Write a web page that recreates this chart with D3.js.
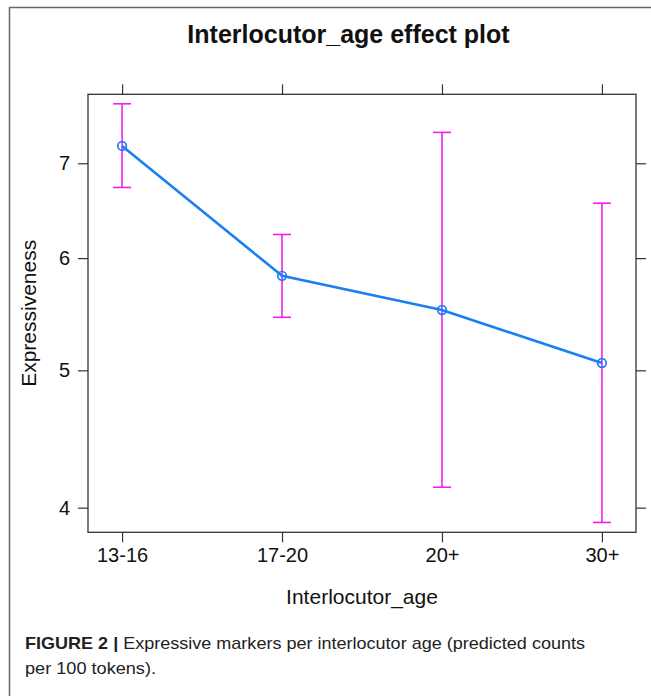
<!DOCTYPE html>
<html>
<head>
<meta charset="utf-8">
<script src="https://cdn.jsdelivr.net/npm/d3@7"></script>
<style>
  html, body { margin: 0; padding: 0; background: #fff; }
  svg { display: block; }
  text { font-family: "Liberation Sans", Arial, Helvetica, sans-serif; fill: #111; }
</style>
</head>
<body>
<svg id="chart" width="651" height="696"></svg>
<script>
// Interlocutor age effect on expressiveness (fitted values with confidence limits)
const categories = ["13-16", "17-20", "20+", "30+"];
const fitValues   = [7.20, 5.83, 5.515, 5.06];
const lowerValues = [6.73, 5.45, 4.135, 3.905];
const upperValues = [7.71, 6.235, 7.36, 6.56];
const yTickValues = [4, 5, 6, 7];

const titleText = "Interlocutor_age effect plot";
const xTitle = "Interlocutor_age";
const yTitle = "Expressiveness";
const captionBold = "FIGURE 2 |";
const captionLine1 = " Expressive markers per interlocutor age (predicted counts";
const captionLine2 = "per 100 tokens).";

const svg = d3.select("#chart");
const box = { left: 88, right: 636, top: 94.3, bottom: 532.3 };

// outer figure frame (open at right and bottom)
svg.append("path")
  .attr("d", "M9.5,696 L9.5,7.5 L651,7.5")
  .attr("fill", "none").attr("stroke", "#666").attr("stroke-width", 1.5);

const x = d3.scalePoint()
  .domain(categories)
  .range([box.left, box.right])
  .padding(0.213);

const y = d3.scaleLog()
  .domain([3.843, 7.83])
  .range([box.bottom, box.top]);

const tickLen = 10;
const axisColor = "#333";

// ticks on all four sides, labels on left and bottom
const axLeft = d3.axisLeft(y).tickValues(yTickValues).tickFormat(d3.format("d")).tickSizeOuter(0).tickSizeInner(tickLen).tickPadding(8);
const axRight = d3.axisRight(y).tickValues(yTickValues).tickFormat("").tickSizeOuter(0).tickSizeInner(tickLen);
const axBottom = d3.axisBottom(x).tickSizeOuter(0).tickSizeInner(tickLen).tickPadding(6);
const axTop = d3.axisTop(x).tickFormat("").tickSizeOuter(0).tickSizeInner(tickLen);

function styleAxis(g) {
  g.select(".domain").remove();
  g.selectAll(".tick line").attr("stroke", axisColor).attr("stroke-width", 1.2);
  g.selectAll(".tick text")
    .attr("fill", "#111")
    .style("font-family", "'Liberation Sans', Arial, Helvetica, sans-serif")
    .style("font-size", "20px");
}

svg.append("g").attr("transform", `translate(${box.left},0)`).call(axLeft).call(styleAxis);
svg.append("g").attr("transform", `translate(${box.right},0)`).call(axRight).call(styleAxis);
svg.append("g").attr("transform", `translate(0,${box.bottom})`).call(axBottom).call(styleAxis);
svg.append("g").attr("transform", `translate(0,${box.top})`).call(axTop).call(styleAxis);

// panel box
svg.append("rect")
  .attr("x", box.left).attr("y", box.top)
  .attr("width", box.right - box.left).attr("height", box.bottom - box.top)
  .attr("fill", "none").attr("stroke", axisColor).attr("stroke-width", 1.3);

const rows = categories.map((c, i) => ({ cat: c, fit: fitValues[i], lo: lowerValues[i], hi: upperValues[i] }));

// confidence interval bars
const barColor = "#f020f0";
const capHalf = 9;
const bars = svg.append("g");
bars.selectAll("line.stem").data(rows).join("line")
  .attr("class", "stem")
  .attr("x1", d => x(d.cat)).attr("x2", d => x(d.cat))
  .attr("y1", d => y(d.lo)).attr("y2", d => y(d.hi))
  .attr("stroke", barColor).attr("stroke-width", 1.6);
bars.selectAll("line.capHi").data(rows).join("line")
  .attr("class", "capHi")
  .attr("x1", d => x(d.cat) - capHalf).attr("x2", d => x(d.cat) + capHalf)
  .attr("y1", d => y(d.hi)).attr("y2", d => y(d.hi))
  .attr("stroke", barColor).attr("stroke-width", 1.6);
bars.selectAll("line.capLo").data(rows).join("line")
  .attr("class", "capLo")
  .attr("x1", d => x(d.cat) - capHalf).attr("x2", d => x(d.cat) + capHalf)
  .attr("y1", d => y(d.lo)).attr("y2", d => y(d.lo))
  .attr("stroke", barColor).attr("stroke-width", 1.6);

// fitted line and points
const lineColor = "#1a7ff0";
svg.append("path")
  .datum(rows)
  .attr("d", d3.line().x(d => x(d.cat)).y(d => y(d.fit)))
  .attr("fill", "none").attr("stroke", lineColor).attr("stroke-width", 2.6);
svg.append("g").selectAll("circle").data(rows).join("circle")
  .attr("cx", d => x(d.cat)).attr("cy", d => y(d.fit)).attr("r", 4.3)
  .attr("fill", "none").attr("stroke", lineColor).attr("stroke-width", 1.7);

// titles
svg.append("text")
  .attr("x", 348.5).attr("y", 43)
  .attr("text-anchor", "middle")
  .style("font-size", "25px").style("font-weight", "bold")
  .text(titleText);

svg.append("text")
  .attr("x", (box.left + box.right) / 2).attr("y", 604)
  .attr("text-anchor", "middle")
  .style("font-size", "21px")
  .text(xTitle);

svg.append("text")
  .attr("transform", `translate(36,${(box.top + box.bottom) / 2}) rotate(-90)`)
  .attr("text-anchor", "middle")
  .style("font-size", "21px")
  .text(yTitle);

// caption
const captionFont = "'Liberation Sans Narrow', 'Liberation Sans', Arial, sans-serif";
const cap1 = svg.append("text")
  .attr("x", 25).attr("y", 649)
  .attr("textLength", 560).attr("lengthAdjust", "spacingAndGlyphs")
  .style("font-family", captionFont)
  .style("font-size", "17px").style("fill", "#222");
cap1.append("tspan").style("font-weight", "bold").text(captionBold);
cap1.append("tspan").text(captionLine1);

svg.append("text")
  .attr("x", 25).attr("y", 674)
  .attr("textLength", 131).attr("lengthAdjust", "spacingAndGlyphs")
  .style("font-family", captionFont)
  .style("font-size", "17px").style("fill", "#222")
  .text(captionLine2);
</script>
</body>
</html>
